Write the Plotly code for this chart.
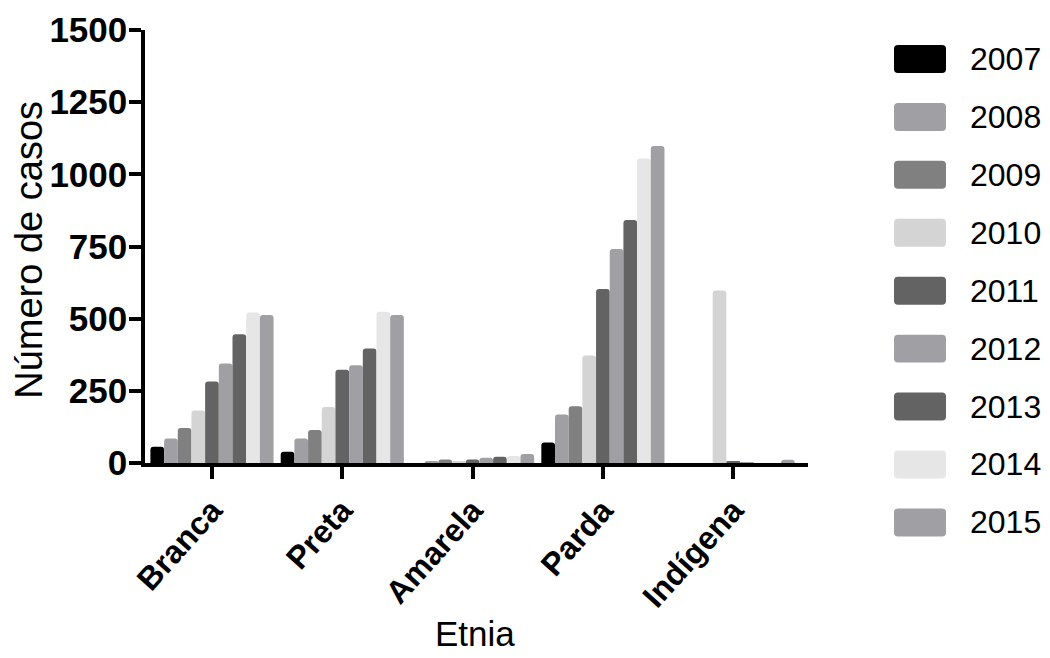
import plotly.graph_objects as go

# Case counts by ethnicity and year
categories = ["Branca", "Preta", "Amarela", "Parda", "Indígena"]
years = ["2007", "2008", "2009", "2010", "2011", "2012", "2013", "2014", "2015"]
cases_2007 = [56, 39, 0, 71, 0]
cases_2008 = [85, 85, 7, 168, 0]
cases_2009 = [121, 114, 12, 197, 0]
cases_2010 = [182, 194, 5, 372, 598]
cases_2011 = [282, 323, 12, 603, 5]
cases_2012 = [345, 339, 18, 741, 3]
cases_2013 = [446, 397, 22, 842, 0]
cases_2014 = [521, 524, 24, 1055, 0]
cases_2015 = [513, 513, 31, 1098, 11]
y_ticks = [0, 250, 500, 750, 1000, 1250, 1500]

series = [cases_2007, cases_2008, cases_2009, cases_2010, cases_2011,
          cases_2012, cases_2013, cases_2014, cases_2015]
colors = ["#000000", "#a0a0a4", "#808080", "#d4d4d4", "#636363",
          "#a0a0a4", "#636363", "#e6e6e6", "#a0a0a4"]

W, H = 1050, 658
L, R, T, B = 145, 242, 30, 194.5
PW, PH = W - L - R, H - T - B

FONT = "Arial, Liberation Sans, sans-serif"

fig = go.Figure()
for year, vals, col in zip(years, series, colors):
    fig.add_trace(go.Bar(x=categories, y=vals, name=year,
                         marker=dict(color=col, line=dict(width=0))))


def px_x(px):
    return (px - L) / PW


def px_y(py):
    return (H - B - py) / PH


# Legend drawn as rounded swatches with labels
shapes = []
annotations = []
sw_x0, sw_x1, sw_h, rad = 894, 946, 28, 4
for i, (year, col) in enumerate(zip(years, colors)):
    cy = 59 + 58 * i
    y0, y1 = cy - sw_h / 2, cy + sw_h / 2
    pts = [
        f"M{px_x(sw_x0 + rad)},{px_y(y0)}",
        f"L{px_x(sw_x1 - rad)},{px_y(y0)}",
        f"Q{px_x(sw_x1)},{px_y(y0)} {px_x(sw_x1)},{px_y(y0 + rad)}",
        f"L{px_x(sw_x1)},{px_y(y1 - rad)}",
        f"Q{px_x(sw_x1)},{px_y(y1)} {px_x(sw_x1 - rad)},{px_y(y1)}",
        f"L{px_x(sw_x0 + rad)},{px_y(y1)}",
        f"Q{px_x(sw_x0)},{px_y(y1)} {px_x(sw_x0)},{px_y(y1 - rad)}",
        f"L{px_x(sw_x0)},{px_y(y0 + rad)}",
        f"Q{px_x(sw_x0)},{px_y(y0)} {px_x(sw_x0 + rad)},{px_y(y0)}",
        "Z",
    ]
    shapes.append(dict(type="path", xref="paper", yref="paper",
                       path=" ".join(pts), fillcolor=col,
                       line=dict(width=0)))
    annotations.append(dict(text=year, xref="paper", yref="paper",
                            x=px_x(968), y=px_y(cy), xanchor="left",
                            yanchor="middle", showarrow=False,
                            font=dict(family=FONT, size=32, color="black")))

annotations.append(dict(text="Etnia", xref="paper", yref="paper",
                        x=px_x(475), y=px_y(634), xanchor="center",
                        yanchor="middle", showarrow=False,
                        font=dict(family=FONT, size=35, color="black")))
annotations.append(dict(text="Número de casos", xref="paper", yref="paper",
                        x=px_x(29), y=px_y(250), xanchor="center",
                        yanchor="middle", textangle=-90, showarrow=False,
                        font=dict(family=FONT, size=38, color="black")))

fig.update_layout(
    width=W, height=H,
    margin=dict(l=L, r=R, t=T, b=B, autoexpand=False),
    paper_bgcolor="white", plot_bgcolor="white",
    barmode="group", bargap=0.055, bargroupgap=0.0,
    barcornerradius=3,
    showlegend=False,
    shapes=shapes, annotations=annotations,
    xaxis=dict(
        range=[-0.514, 4.574],
        showline=True, linecolor="black", linewidth=3.5,
        ticks="outside", ticklen=12, tickwidth=3.5, tickcolor="black",
        tickangle=-48, showgrid=False, zeroline=False,
        tickfont=dict(family=FONT, size=32, color="black", weight="bold"),
    ),
    yaxis=dict(
        range=[0, 1500], tickvals=y_ticks,
        showline=True, linecolor="black", linewidth=3.5,
        ticks="outside", ticklen=12, tickwidth=3.5, tickcolor="black",
        showgrid=False, zeroline=False, ticklabelstandoff=-5,
        tickfont=dict(family=FONT, size=35, color="black", weight="bold"),
    ),
)

fig.write_html("out.html")
